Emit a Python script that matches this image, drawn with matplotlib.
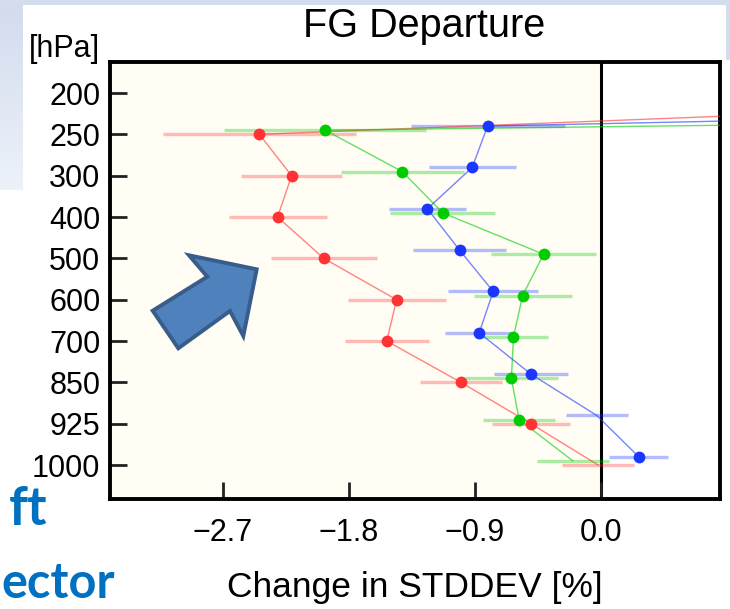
import numpy as np
import matplotlib
matplotlib.use("Agg")
import matplotlib.pyplot as plt
from matplotlib.patches import Polygon, Rectangle

# Pressure levels and change in first-guess departure STDDEV [%]
levels = ["200", "250", "300", "400", "500", "600", "700", "850", "925", "1000"]

red_vals = [5.1, -2.44, -2.21, -2.31, -1.98, -1.46, -1.53, -1.00, -0.50, -0.02]
red_err = [0.70, 0.69, 0.36, 0.35, 0.38, 0.35, 0.30, 0.29, 0.28, 0.255]
red_marked = [False, True, True, True, True, True, True, True, True, False]

green_vals = [21.7, -1.97, -1.42, -1.13, -0.41, -0.56, -0.625, -0.64, -0.585, -0.20]
green_err = [0.70, 0.72, 0.44, 0.375, 0.375, 0.35, 0.25, 0.33, 0.26, 0.26]
green_marked = [False, True, True, True, True, True, True, True, True, False]

blue_vals = [13.1, -0.81, -0.92, -1.24, -1.01, -0.77, -0.87, -0.50, -0.03, 0.27]
blue_err = [0.60, 0.55, 0.31, 0.275, 0.33, 0.32, 0.245, 0.265, 0.22, 0.21]
blue_marked = [False, True, True, True, True, True, True, True, False, True]

xticks = [-2.7, -1.8, -0.9, 0.0]

W, H = 730, 609
fig = plt.figure(figsize=(W / 100, H / 100), dpi=100)
fig.patch.set_facecolor("white")


def fx(x):
    return x / W


def fy(y):
    return 1 - y / H


# slide background: light blue border fading into the white panel
grad = np.linspace(0, 1, 200).reshape(-1, 1)
c_top = np.array([0.82, 0.86, 0.93])
c_bot = np.array([0.93, 0.95, 0.98])
img = c_top + (c_bot - c_top) * grad[..., None]
img = np.repeat(img, 2, axis=1)
bg = fig.add_axes([0, fy(190), fx(23), 190 / H])
bg.imshow(img, aspect="auto", extent=[0, 1, 0, 1])
bg.axis("off")
fig.patches.append(Rectangle((0, fy(5)), 1, 5 / H, transform=fig.transFigure,
                             facecolor="#d3dded", edgecolor="none", zorder=0))
fig.patches.append(Rectangle((fx(726), fy(60)), 4 / W, 60 / H, transform=fig.transFigure,
                             facecolor="#d3dded", edgecolor="none", zorder=0))

ax = fig.add_axes([fx(110), fy(499), fx(720) - fx(110), (499 - 62) / H])
ax.set_facecolor("white")

xmin, xmax = -3.507, 0.85
ax.set_xlim(xmin, xmax)
ax.set_ylim(9.82, -0.75)
ax.axvspan(xmin, 0, color="#fffdf4", zorder=0)
ax.axvline(0, color="black", lw=2.2, zorder=1)

idx = np.arange(len(levels))
series = [
    (red_vals, red_err, red_marked, 0.0, "#ff3333"),
    (green_vals, green_err, green_marked, -0.1, "#00cc00"),
    (blue_vals, blue_err, blue_marked, -0.2, "#1a36ff"),
]
for vals, err, marked, off, col in series:
    v = np.array(vals)
    e = np.array(err)
    y = idx + off
    ax.hlines(y, v - e, v + e, color=col, alpha=0.33, lw=2.4, zorder=2)
    ax.plot(v, y, color=col, lw=1.0, alpha=0.6, zorder=3)
    m = np.where(marked, v, np.nan)
    ax.plot(m, y, "o", color=col, ms=8.5, mec="none", zorder=4)

ax.set_yticks(idx)
ax.set_yticklabels(levels)
ax.set_xticks(xticks)
ax.set_xticklabels([f"{t:.1f}".replace("-", "\u2212") for t in xticks])
for lab in ax.get_xticklabels() + ax.get_yticklabels():
    lab.set_fontfamily("Liberation Sans")
    lab.set_fontsize(22)
ax.tick_params(axis="both", direction="in", length=12, width=2, color="#222222")
ax.tick_params(axis="y", pad=7)
ax.tick_params(axis="x", pad=14)
for s in ax.spines.values():
    s.set_linewidth(2.8)
    s.set_color("black")

fig.text(fx(424), fy(26), "FG Departure", ha="center", va="center",
         fontsize=28.5, family="Liberation Sans")
fig.text(fx(64), fy(49), "[hPa]", ha="center", va="center",
         fontsize=22, family="Liberation Sans")
fig.text(fx(415), fy(588), "Change in STDDEV [%]", ha="center", va="center",
         fontsize=25.5, family="Liberation Sans")

# block arrow
arrow_pts = [(256.7, 269.3), (189, 255.3), (207.3, 276.7), (152.7, 310.7),
             (178.3, 348.3), (230, 311), (243.3, 336)]
fig.patches.append(Polygon([(fx(x), fy(y)) for x, y in arrow_pts], closed=True,
                           transform=fig.transFigure, facecolor="#4f81bd",
                           edgecolor="#385d8a", lw=2.8, joinstyle="miter", zorder=5))

# slide text at the left edge
fig.text(fx(48), fy(525), "ft", ha="right", va="baseline", fontsize=38,
         family="Lato", weight="bold", color="#0070c0")
fig.text(fx(1), fy(598), "ector", ha="left", va="baseline", fontsize=35,
         family="Lato", weight="bold", color="#0070c0")

fig.savefig("out.png", dpi=100, facecolor=fig.get_facecolor())
